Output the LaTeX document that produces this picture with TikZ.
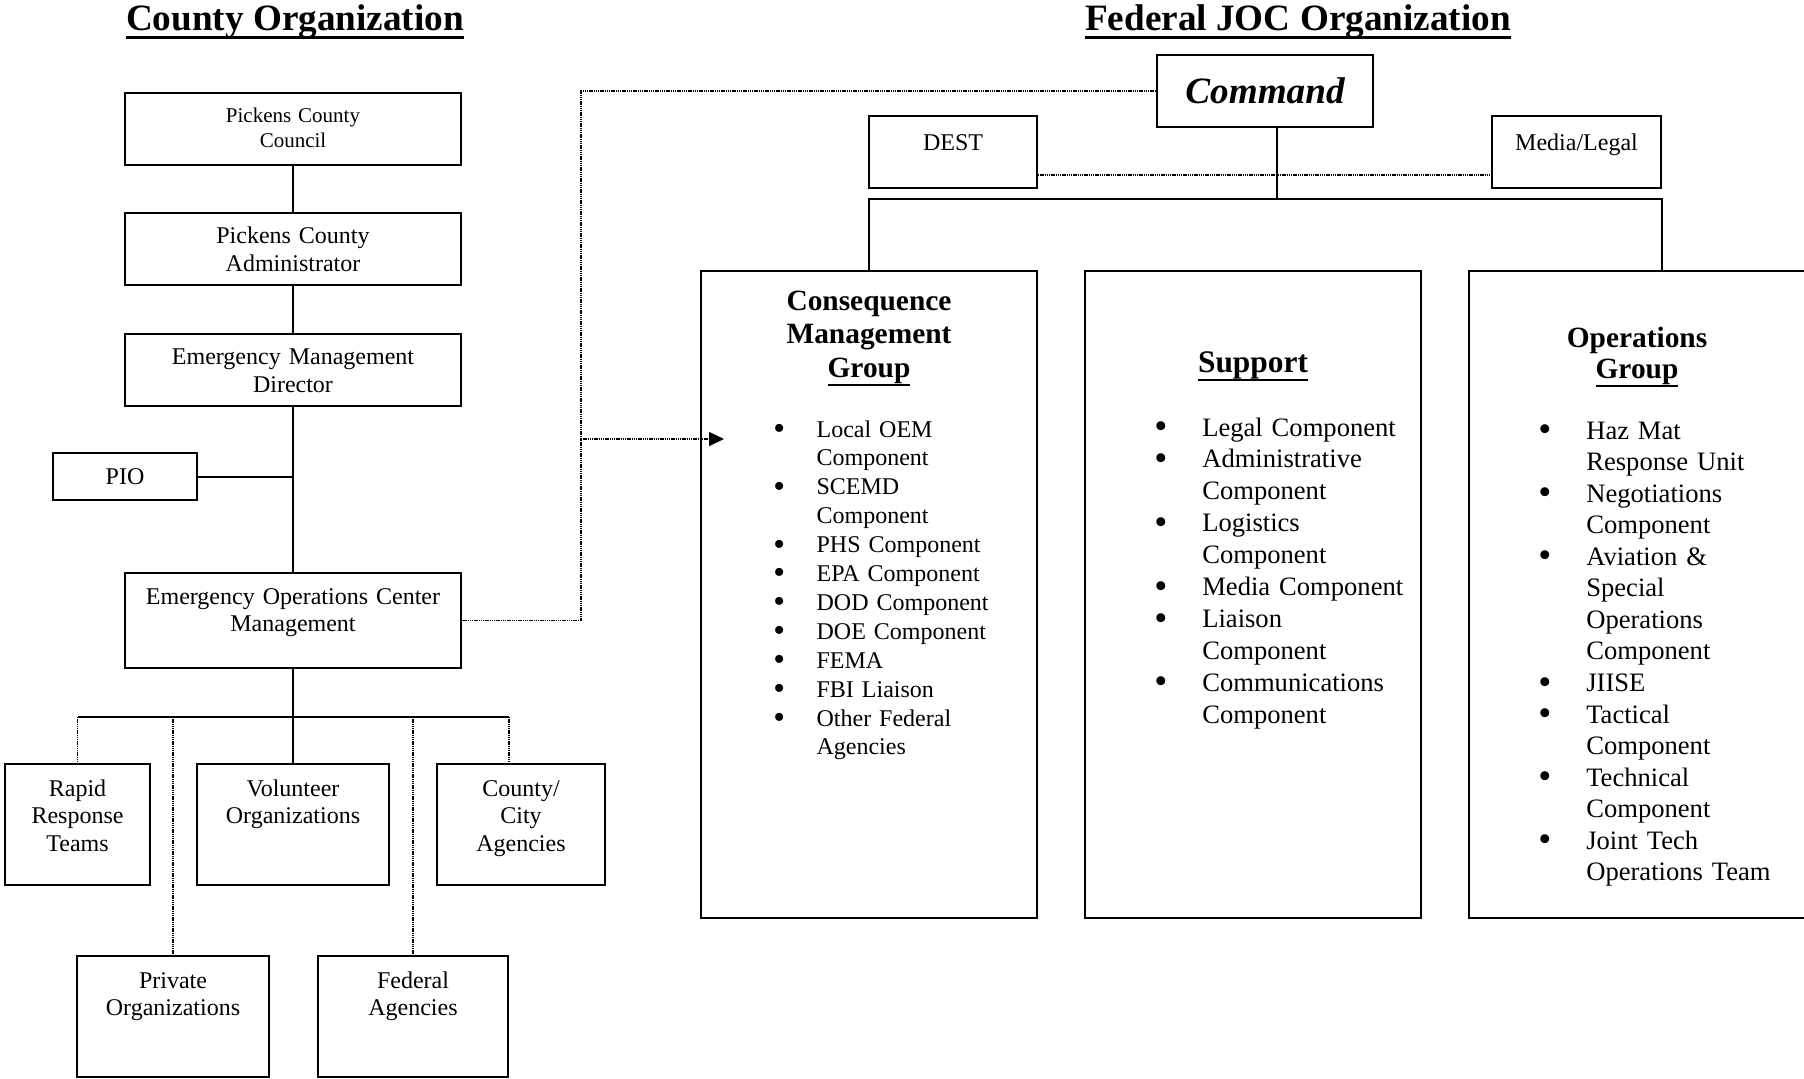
\documentclass[tikz,border=0pt]{standalone}
\usepackage{fontspec}
\setmainfont{Liberation Serif}
\usetikzlibrary{arrows.meta}

\newsavebox{\ulbox}
\newcommand{\itm}{\makebox[1.8em][l]{\raisebox{-0.1em}{\scalebox{1.4}{\textbullet}}}}
\newcommand{\cnt}{\hspace*{1.8em}}
\newcommand{\ttl}[1]{\leavevmode\sbox{\ulbox}{#1}\rlap{\rule[-4.5pt]{\wd\ulbox}{1.5pt}}\usebox{\ulbox}}
\newcommand{\grp}[1]{\leavevmode\sbox{\ulbox}{#1}\rlap{\rule[-4.5pt]{\wd\ulbox}{1pt}}\usebox{\ulbox}}

\tikzset{
  orgbox/.style={draw, line width=1pt, inner sep=0pt},
  link/.style={line width=1pt},
  dotlink/.style={line width=0.8pt, dash pattern=on 0.7pt off 0.4pt},
  lbl/.style={anchor=base, align=center, text width=160pt, inner sep=0pt,
    font=\fontsize{12}{13.8}\selectfont},
  title/.style={anchor=base, inner sep=0pt,
    font=\fontsize{18.6}{22}\selectfont\bfseries},
  head/.style={anchor=base, align=center, text width=150pt, inner sep=0pt,
    font=\fontsize{14.7}{16.8}\selectfont\bfseries},
  list/.style={anchor=base west, align=left, text width=130pt, inner sep=0pt,
    font=\fontsize{12}{14.45}\selectfont},
}

\begin{document}
\begin{tikzpicture}[x=0.5pt,y=-0.5pt]
  \useasboundingbox (0,0) rectangle (1804,1078);

  % titles
  \node[title] (ctitle) at (295,30) {\ttl{County Organization}};
  \node[title] (ftitle) at (1298,30) {\ttl{Federal JOC Organization}};

  % county boxes
  \node[orgbox, minimum width=168pt, minimum height=36pt] (council) at (293,129) {};
  \node[orgbox, minimum width=168pt, minimum height=36pt] (admin) at (293,248.5) {};
  \node[orgbox, minimum width=168pt, minimum height=36pt] (emd) at (293,369.5) {};
  \node[orgbox, minimum width=72pt, minimum height=23.5pt,
    font=\fontsize{12}{13.8}\selectfont] (pio) at (125,476.5) {PIO};
  \node[orgbox, minimum width=168pt, minimum height=47.5pt] (eoc) at (293,620.5) {};
  \node[orgbox, minimum width=72.5pt, minimum height=60.5pt] (rapid) at (77.5,824.5) {};
  \node[orgbox, minimum width=96pt, minimum height=60.5pt] (vol) at (293,824.5) {};
  \node[orgbox, minimum width=84pt, minimum height=60.5pt] (city) at (521,824.5) {};
  \node[orgbox, minimum width=96pt, minimum height=60.5pt] (priv) at (173,1016.5) {};
  \node[orgbox, minimum width=95pt, minimum height=60.5pt] (fed) at (413,1016.5) {};

  % county texts
  \node[lbl, font=\fontsize{10.5}{12.75}\selectfont] (council-t)
    at ([yshift=-15pt]council.north) {Pickens County\\Council};
  \node[lbl] (admin-t) at ([yshift=-16pt]admin.north) {Pickens County\\Administrator};
  \node[lbl] (emd-t) at ([yshift=-16pt]emd.north) {Emergency Management\\Director};
  \node[lbl] (eoc-t) at ([yshift=-16pt]eoc.north) {Emergency Operations Center\\Management};
  \node[lbl] (rapid-t) at ([yshift=-16.5pt]rapid.north) {Rapid\\Response\\Teams};
  \node[lbl] (vol-t) at ([yshift=-16.5pt]vol.north) {Volunteer\\Organizations};
  \node[lbl] (city-t) at ([yshift=-16.5pt]city.north) {County/\\City\\Agencies};
  \node[lbl] (priv-t) at ([yshift=-16.5pt]priv.north) {Private\\Organizations};
  \node[lbl] (fed-t) at ([yshift=-16.5pt]fed.north) {Federal\\Agencies};

  % county lines
  \coordinate (cbus) at (293,717);
  \draw[link] (council) -- (admin);
  \draw[link] (admin) -- (emd);
  \draw[link] (emd) -- (eoc);
  \draw[link] (pio) -- (pio -| eoc);
  \draw[link] (eoc) -- (cbus);
  \draw[link] (rapid.north |- cbus) -- (fed.north east |- cbus);
  \draw[link] (cbus) -- (vol.north);
  \draw[dotlink] (rapid.north |- cbus) -- (rapid.north);
  \draw[dotlink] (priv.north |- cbus) -- (priv.north);
  \draw[dotlink] (fed.north |- cbus) -- (fed.north);
  \draw[dotlink] (fed.north east |- cbus) -- (fed.north east |- city.north);

  % federal boxes
  \node[orgbox, minimum width=108pt, minimum height=36pt,
    font=\fontsize{18.6}{22}\selectfont\bfseries\itshape] (cmd) at (1265,91) {Command};
  \node[orgbox, minimum width=84pt, minimum height=36pt] (dest) at (953,152) {};
  \node[orgbox, minimum width=84.5pt, minimum height=36pt] (media) at (1576.5,152) {};
  \node[orgbox, minimum width=168pt, minimum height=323.5pt] (cons) at (869,594.5) {};
  \node[orgbox, minimum width=168pt, minimum height=323.5pt] (supp) at (1253,594.5) {};
  \node[orgbox, minimum width=170pt, minimum height=323.5pt] (ops) at (1639,594.5) {};

  \node[lbl] (dest-t) at ([yshift=-17.5pt]dest.north) {DEST};
  \node[lbl] (media-t) at ([yshift=-17.5pt]media.north) {Media/Legal};

  % federal lines
  \coordinate (fbus) at (1277,199);
  \coordinate (jn) at (581,439);
  \draw[link] (cmd.south -| fbus) -- (fbus);
  \draw[link] (cons.north) |- (media.east |- fbus) -- (media.east |- ops.north);
  \draw[dotlink] ([yshift=-11.5pt]dest.east) -- ([yshift=-11.5pt]media.west);
  \draw[dotlink] (cmd.west) -| (jn) |- (eoc.east);
  \draw[dotlink, -{Triangle[length=7.5pt,width=7pt]}] (jn) -- ([xshift=12pt]cons.west |- jn);

  % group contents
  \node[head] (cons-h) at (869,310) {Consequence\\Management\\\grp{Group}};
  \node[list] (cons-l) at (773,437) {\itm Local OEM\\ \cnt Component\\
    \itm SCEMD\\ \cnt Component\\ \itm PHS Component\\ \itm EPA Component\\
    \itm DOD Component\\ \itm DOE Component\\ \itm FEMA\\ \itm FBI Liaison\\
    \itm Other Federal\\ \cnt Agencies};

  \node[head, font=\fontsize{15.7}{18}\selectfont\bfseries] (supp-h) at (1253,372) {\grp{Support}};
  \node[list, font=\fontsize{13.3}{15.95}\selectfont] (supp-l) at (1154,436) {\itm Legal Component\\
    \itm Administrative\\ \cnt Component\\ \itm Logistics\\ \cnt Component\\
    \itm Media Component\\ \itm Liaison\\ \cnt Component\\
    \itm Communications\\ \cnt Component};

  \node[head, font=\fontsize{14.7}{15.5}\selectfont\bfseries] (ops-h) at (1637,347) {Operations\\\grp{Group}};
  \node[list, font=\fontsize{13.3}{15.78}\selectfont] (ops-l) at (1538,439) {\itm Haz Mat\\
    \cnt Response Unit\\ \itm Negotiations\\ \cnt Component\\ \itm Aviation \&\\
    \cnt Special\\ \cnt Operations\\ \cnt Component\\ \itm JIISE\\
    \itm Tactical\\ \cnt Component\\ \itm Technical\\ \cnt Component\\
    \itm Joint Tech\\ \cnt Operations Team};
\end{tikzpicture}
\end{document}
